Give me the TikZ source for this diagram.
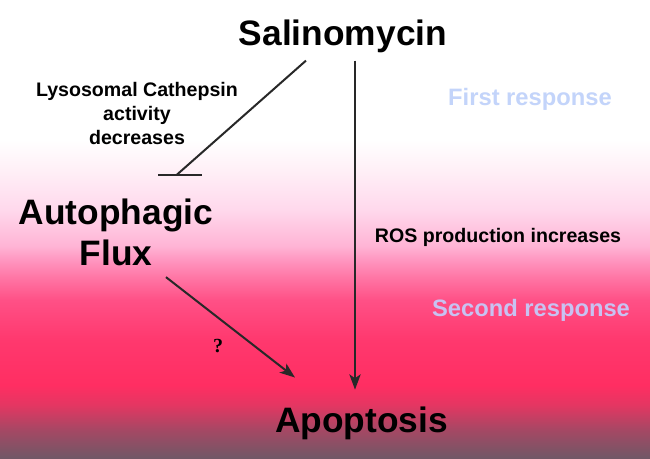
\documentclass[tikz,border=0pt]{standalone}
\usepackage{fontspec}
\setmainfont{Liberation Sans}
\newfontfamily\qfont{Liberation Serif}
\usetikzlibrary{arrows.meta}
\definecolor{bgA}{RGB}{110,88,102}
\definecolor{bgB}{RGB}{165,72,100}
\definecolor{bgC}{RGB}{228,54,98}
\definecolor{bgD}{RGB}{255,46,98}
\definecolor{bgE}{RGB}{255,56,110}
\definecolor{bgF}{RGB}{255,80,134}
\definecolor{bgG}{RGB}{255,118,165}
\definecolor{bgK}{RGB}{255,150,192}
\definecolor{bgH}{RGB}{255,180,213}
\definecolor{bgI}{RGB}{255,216,236}
\definecolor{bgJ}{RGB}{255,240,247}
\definecolor{firstcol}{RGB}{195,212,250}
\definecolor{secondcol}{RGB}{200,194,242}
\definecolor{linecol}{RGB}{40,40,40}
% tikz maps the path onto the middle half (25bp..75bp) of the shading
\pgfdeclareverticalshading{bgshade}{100bp}{color(0bp)=(bgA); color(25bp)=(bgA); color(28.15bp)=(bgB);
  color(30.9bp)=(bgC); color(33.05bp)=(bgD); color(37.95bp)=(bgE); color(42.3bp)=(bgF);
  color(44.8bp)=(bgG); color(46.7bp)=(bgK); color(48.2bp)=(bgH); color(52.1bp)=(bgI);
  color(56.5bp)=(bgJ); color(59.75bp)=(white); color(100bp)=(white)}

\begin{document}
\begin{tikzpicture}[x=0.75pt,y=-0.75pt,
    big/.style={font=\bfseries\fontsize{26.5}{30.75}\selectfont, inner sep=0pt, align=center},
    small/.style={font=\bfseries\fontsize{14.7}{18}\selectfont, inner sep=0pt, align=center},
    resp/.style={font=\bfseries\fontsize{17.8}{20}\selectfont, inner sep=0pt},
    link/.style={draw=linecol, line width=1.5pt},
    arr/.style={link, -{Stealth[length=11.5pt, width=8.5pt, inset=3pt]}}]
  \shade[shading=bgshade] (0,0) rectangle (650,459);
  \useasboundingbox (0,0) rectangle (650,459);

  % nodes
  \node[big, anchor=base] (sal) at (343,46) {Salinomycin};
  \node[big, anchor=center] (flux) at (116,232.4) {Autophagic\\Flux};
  \node[big, anchor=base] (apo) at (361.5,433) {Apoptosis};

  % labels
  \node[small, anchor=center] (lys) at (137,113) {Lysosomal Cathepsin\\activity\\decreases};
  \node[small, anchor=base] (ros) at (498,243) {ROS production increases};
  \node[resp, anchor=base, text=firstcol] (first) at (530,106) {First response};
  \node[resp, anchor=base, text=secondcol] (second) at (531,317) {Second response};
  \node[font=\qfont\bfseries\fontsize{15}{18}\selectfont, inner sep=0pt] (q) at (218,346) {?};

  % connectors
  \coordinate (inh) at ([shift={(-166,121)}]sal.south);
  \draw[link] ([shift={(-37,7)}]sal.south) -- (inh);
  \draw[link] ([shift={(-19,0)}]inh) -- ([shift={(25,0)}]inh);
  \draw[arr] ([shift={(12,7)}]sal.south) -- ([shift={(-6.5,-17.5)}]apo.north);
  \draw[arr] ([shift={(50,11)}]flux.south) -- ([shift={(-66.5,-29.6)}]apo.north);
\end{tikzpicture}
\end{document}
